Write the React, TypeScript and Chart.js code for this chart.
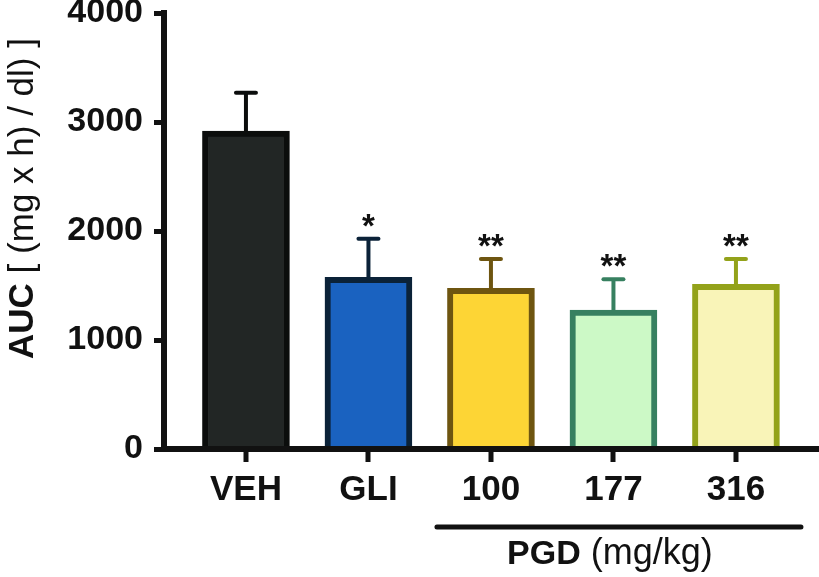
import React, { useEffect, useRef } from "react";
import { Chart, registerables } from "chart.js";

Chart.register(...registerables);

const categories = ["VEH", "GLI", "100", "177", "316"];
const means = [2917, 1575, 1474, 1275, 1511];
const errors = [352, 354, 269, 282, 232];
const stars = ["", "*", "**", "**", "**"];
const yTicks = [0, 1000, 2000, 3000, 4000];
const fillColors = ["#222625", "#1a62c0", "#fdd535", "#ccf9c6", "#f9f4b8"];
const edgeColors = ["#0b0d0c", "#0b2238", "#6e5510", "#378060", "#93a21a"];
const groupBold = "PGD";
const groupRest = " (mg/kg)";
const yTitleBold = "AUC";
const yTitleRest = " [ (mg x h) / dl) ]";

const FAMILY = "'Liberation Sans', Arial, Helvetica, sans-serif";
const INK = "#111111";

const extrasPlugin = {
  id: "extras",
  afterDatasetsDraw(chart: any) {
    const { ctx, scales } = chart;
    const xs = scales.x;
    const ys = scales.y;
    ctx.save();
    means.forEach((m, i) => {
      const cx = xs.getPixelForValue(i);
      const yTop = ys.getPixelForValue(m);
      const yCap = ys.getPixelForValue(m + errors[i]);
      ctx.strokeStyle = edgeColors[i];
      ctx.lineCap = "butt";
      ctx.lineWidth = 4;
      ctx.beginPath();
      ctx.moveTo(cx, yTop);
      ctx.lineTo(cx, yCap);
      ctx.stroke();
      ctx.lineCap = "round";
      ctx.beginPath();
      ctx.moveTo(cx - 10, yCap);
      ctx.lineTo(cx + 10, yCap);
      ctx.stroke();
      if (stars[i]) {
        ctx.fillStyle = INK;
        ctx.font = `bold 33px ${FAMILY}`;
        ctx.textAlign = "center";
        ctx.textBaseline = "alphabetic";
        ctx.fillText(stars[i], cx, yCap - 2);
      }
    });
    ctx.restore();
  },
  afterDraw(chart: any) {
    const { ctx, scales } = chart;
    const xs = scales.x;
    const ys = scales.y;
    ctx.save();
    // x-axis tick marks at category positions
    const axisY = ys.getPixelForValue(0);
    ctx.fillStyle = INK;
    categories.forEach((_, i) => {
      const px = Math.round(xs.getPixelForValue(i));
      ctx.fillRect(px - 2.5, axisY, 5, 13);
    });
    // group bracket
    const x1 = xs.getPixelForValue(2) - 54;
    const x2 = xs.getPixelForValue(4) + 65;
    ctx.strokeStyle = INK;
    ctx.lineWidth = 5;
    ctx.lineCap = "round";
    ctx.beginPath();
    ctx.moveTo(x1, 527);
    ctx.lineTo(x2, 527);
    ctx.stroke();
    ctx.textBaseline = "alphabetic";
    ctx.textAlign = "left";
    const bFont = `bold 34px ${FAMILY}`;
    const rFont = `36px ${FAMILY}`;
    ctx.font = bFont;
    const wb = ctx.measureText(groupBold).width;
    ctx.font = rFont;
    const wr = ctx.measureText(groupRest).width;
    const gx = (x1 + x2) / 2 - 9 - (wb + wr) / 2;
    ctx.font = bFont;
    ctx.fillText(groupBold, gx, 564);
    ctx.font = rFont;
    ctx.fillText(groupRest, gx + wb, 564);
    // y-axis title
    const tb = `bold 35px ${FAMILY}`;
    const tr = `35px ${FAMILY}`;
    ctx.font = tb;
    const twb = ctx.measureText(yTitleBold).width;
    ctx.font = tr;
    const twr = ctx.measureText(yTitleRest).width;
    ctx.translate(33, 198.5);
    ctx.rotate(-Math.PI / 2);
    const sx = -(twb + twr) / 2;
    ctx.font = tb;
    ctx.fillText(yTitleBold, sx, 0);
    ctx.font = tr;
    ctx.fillText(yTitleRest, sx + twb, 0);
    ctx.restore();
  },
};

export default function App() {
  const ref = useRef<HTMLCanvasElement | null>(null);
  useEffect(() => {
    if (!ref.current) return;
    const chart = new Chart(ref.current, {
      type: "bar",
      data: {
        datasets: [
          {
            data: means.map((v, i) => ({ x: i, y: v })),
            backgroundColor: fillColors,
            borderColor: edgeColors,
            borderWidth: 6,
            borderSkipped: "start",
            barThickness: 87,
          } as any,
        ],
      },
      options: {
        responsive: false,
        maintainAspectRatio: false,
        animation: false,
        layout: { padding: { top: 13, right: 0, left: 0, bottom: 0 } },
        plugins: { legend: { display: false }, tooltip: { enabled: false } },
        scales: {
          x: {
            type: "linear",
            min: -0.669,
            max: 4.678,
            offset: false,
            afterBuildTicks: (s: any) => {
              s.ticks = categories.map((_, i) => ({ value: i }));
            },
            afterFit: (s: any) => {
              s.height = 128;
              s.paddingLeft = 0;
              s.paddingRight = 0;
            },
            ticks: {
              callback: (v: any) => categories[v as number] ?? "",
              font: { family: FAMILY, size: 35, weight: "bold" },
              color: INK,
              padding: 9,
              autoSkip: false,
              maxRotation: 0,
              z: 3,
            },
            grid: {
              display: true,
              offset: false,
              drawOnChartArea: false,
              drawTicks: true,
              tickLength: 11,
              lineWidth: 5,
              tickWidth: 5,
              tickColor: "rgba(0,0,0,0)",
              color: "rgba(0,0,0,0)",
              z: 1,
            },
            border: { display: true, width: 6, color: INK, z: 2 },
          },
          y: {
            min: 0,
            max: 4000,
            afterBuildTicks: (s: any) => {
              s.ticks = yTicks.map((v) => ({ value: v }));
            },
            afterFit: (s: any) => {
              s.width = 164;
              s.paddingTop = 0;
              s.paddingBottom = 0;
            },
            ticks: {
              callback: (v: any) => String(v),
              font: { family: FAMILY, size: 34, weight: "bold" },
              color: INK,
              padding: 11,
              z: 3,
            },
            grid: {
              display: true,
              drawOnChartArea: false,
              tickLength: 10,
              lineWidth: 5,
              tickWidth: 5,
              tickColor: INK,
              color: INK,
              z: 1,
            },
            border: { display: true, width: 6, color: INK, z: 2 },
          },
        },
      } as any,
      plugins: [extrasPlugin],
    });
    return () => chart.destroy();
  }, []);
  return (
    <div style={{ position: "fixed", left: 0, top: 0, width: 819, height: 577, background: "#fff" }}>
      <canvas ref={ref} width={819} height={577} style={{ display: "block" }} />
    </div>
  );
}
